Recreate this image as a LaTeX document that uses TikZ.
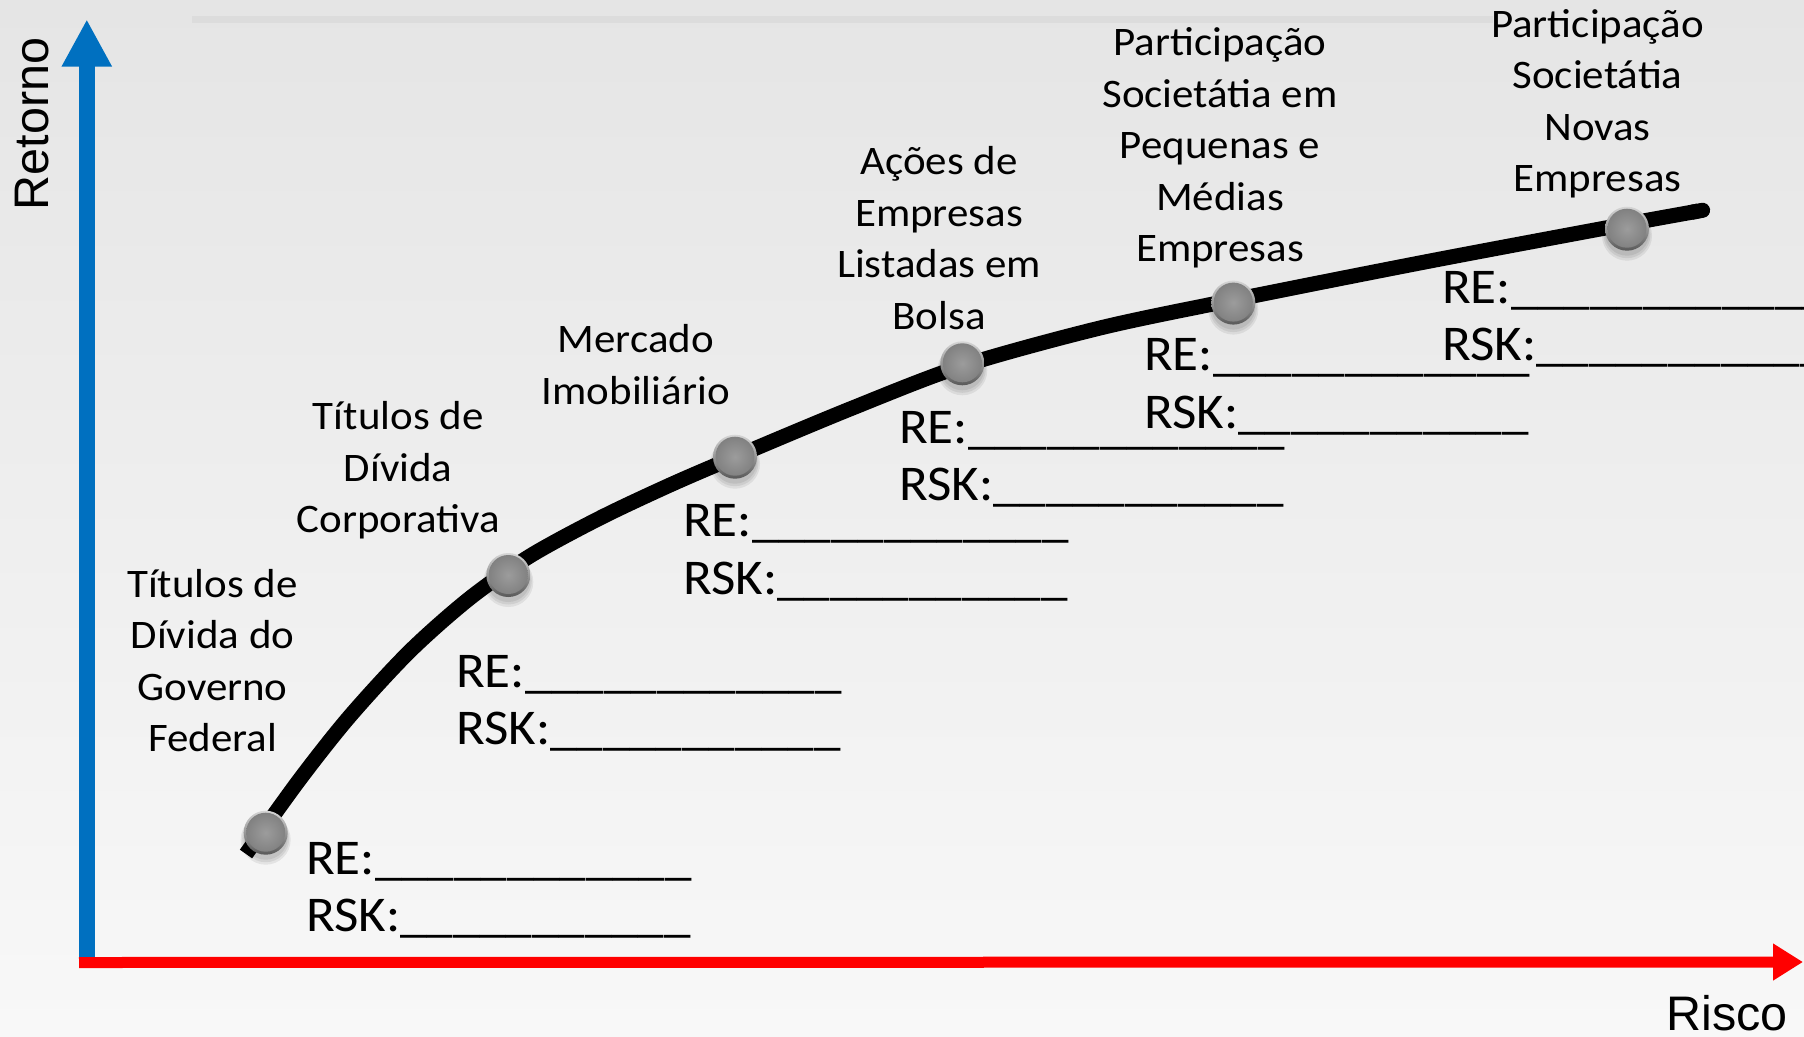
\documentclass[tikz,border=0pt]{standalone}
\usepackage{fontspec}
\setmainfont{Liberation Sans}
\newfontfamily\gillish[FakeStretch=1.06]{Carlito}
\usetikzlibrary{arrows.meta}
\definecolor{bgtop}{HTML}{E5E5E5}
\definecolor{bgbot}{HTML}{F8F8F8}
\definecolor{axisblue}{HTML}{0070C0}
\definecolor{axisred}{HTML}{FF0000}
\definecolor{toplinecol}{HTML}{DCDCDC}
\definecolor{rimtop}{HTML}{D6D6D6}
\definecolor{rimbot}{HTML}{585858}
\definecolor{ballin}{HTML}{9C9C9C}
\definecolor{ballout}{HTML}{7E7E7E}
\newcommand\reblank{\_\_\_\_\_\_\_\_\_\_\_\_}
\newcommand\rskblank{\_\_\_\_\_\_\_\_\_\_\_}
\begin{document}
\begin{tikzpicture}[x=1pt,y=-1pt,
  lab/.style={font=\gillish\fontsize{40.5}{51.5}\selectfont, align=center, anchor=base, inner sep=0pt},
  retxt/.style={font=\gillish\fontsize{50}{57.5}\selectfont, anchor=base west, inner sep=0pt},
  axislabel/.style={font=\fontsize{48.5}{55}\selectfont, inner sep=0pt},
  ballnode/.style={circle, inner sep=0pt, minimum size=44pt, top color=rimtop, bottom color=rimbot,
    path picture={\shade[inner color=ballin, outer color=ballout] ([yshift=0.5pt]path picture bounding box.center) circle (19.5pt);}},
  ballshadow/.style={fill=black, opacity=0.07}
]
\useasboundingbox (0,0) rectangle (1804,1036);
\shade[top color=bgtop, bottom color=bgbot] (0,0) rectangle (1804,1036);

% faint top rule
\coordinate (tl0) at (192,19.5);
\coordinate (tl1) at (1493,19.5);
\draw[toplinecol, line width=7pt] (tl0) -- (tl1);

% axes
\coordinate (yfoot) at (86.8,962);
\coordinate (ytip) at (86.8,19.3);
\draw[axisblue, line width=16pt, -{Triangle[length=47.4pt,width=47pt]}] (yfoot) -- (ytip);
\coordinate (xfoot) at (79,962.5);
\coordinate (xtip) at (1803,962);
\draw[axisred, line width=11pt, -{Triangle[length=30pt,width=35pt]}] (xfoot) -- (xtip);

\node[axislabel, rotate=90, anchor=base west] (ret) at (48,210.5) {Retorno};
\node[axislabel, anchor=base west] (ris) at (1666,1030) {Risco};

% curve
\coordinate (p0) at (246,854);
\coordinate (p1) at (300,779);
\coordinate (p2) at (350,716);
\coordinate (p3) at (410,651);
\coordinate (p4) at (470,598);
\coordinate (p5) at (530,556);
\coordinate (p6) at (600,518);
\coordinate (p7) at (670,485);
\coordinate (p8) at (735,457);
\coordinate (p9) at (850,409);
\coordinate (p10) at (962,366);
\coordinate (p11) at (1100,328);
\coordinate (p12) at (1233,300);
\coordinate (p13) at (1430,261);
\coordinate (p14) at (1627,224);
\coordinate (p15) at (1710,209);
\draw[black, line width=15pt, line cap=butt, -{Round Cap[]}] plot[smooth, tension=0.5] coordinates {(p0) (p1) (p2) (p3) (p4) (p5) (p6) (p7) (p8) (p9) (p10) (p11) (p12) (p13) (p14) (p15)};

% balls
\coordinate (b1s) at (265.7,832.7);
\coordinate (b2s) at (508.3,575);
\coordinate (b3s) at (735,456.7);
\coordinate (b4s) at (962.3,363.3);
\coordinate (b5s) at (1233.3,302.6);
\coordinate (b6s) at (1627,228.7);
\foreach \n in {b1,b2,b3,b4,b5,b6}{
  \fill[ballshadow] ([yshift=-7pt]\n s) circle (25pt);
  \fill[ballshadow] ([yshift=-6pt]\n s) circle (23.5pt);
  \fill[ballshadow] ([yshift=-5pt]\n s) circle (22pt);
  \node[ballnode] (\n) at (\n s) {};
}

% labels (anchor = baseline of last line)
\node[lab] (t1) at (212.5,751.7) {Títulos de\\Dívida do\\Governo\\Federal};
\node[lab] (t2) at (398.3,532.7) {Títulos de\\Dívida\\Corporativa};
\node[lab] (t3) at (635.8,404) {Mercado\\Imobiliário};
\node[lab] (t4) at (939,329) {Ações de\\Empresas\\Listadas em\\Bolsa};
\node[lab] (t5) at (1220,261.7) {Participação\\Societátia em\\Pequenas e\\Médias\\Empresas};
\node[lab] (t6) at (1597.5,191.7) {Participação\\Societátia\\Novas\\Empresas};

% RE / RSK
\node[retxt] (re1) at (306,874) {RE:\reblank};
\node[retxt] (rsk1) at (306,931.5) {RSK:\rskblank};
\node[retxt] (re2) at (456,687) {RE:\reblank};
\node[retxt] (rsk2) at (456,744.5) {RSK:\rskblank};
\node[retxt] (re3) at (683,536.5) {RE:\reblank};
\node[retxt] (rsk3) at (683,594) {RSK:\rskblank};
\node[retxt] (re4) at (899,443.3) {RE:\reblank};
\node[retxt] (rsk4) at (899,500.8) {RSK:\rskblank};
\node[retxt] (re5) at (1144,370.5) {RE:\reblank};
\node[retxt] (rsk5) at (1144,428) {RSK:\rskblank};
\node[retxt] (re6) at (1442,303.3) {RE:\reblank};
\node[retxt] (rsk6) at (1442,360.8) {RSK:\rskblank};
\end{tikzpicture}
\end{document}
